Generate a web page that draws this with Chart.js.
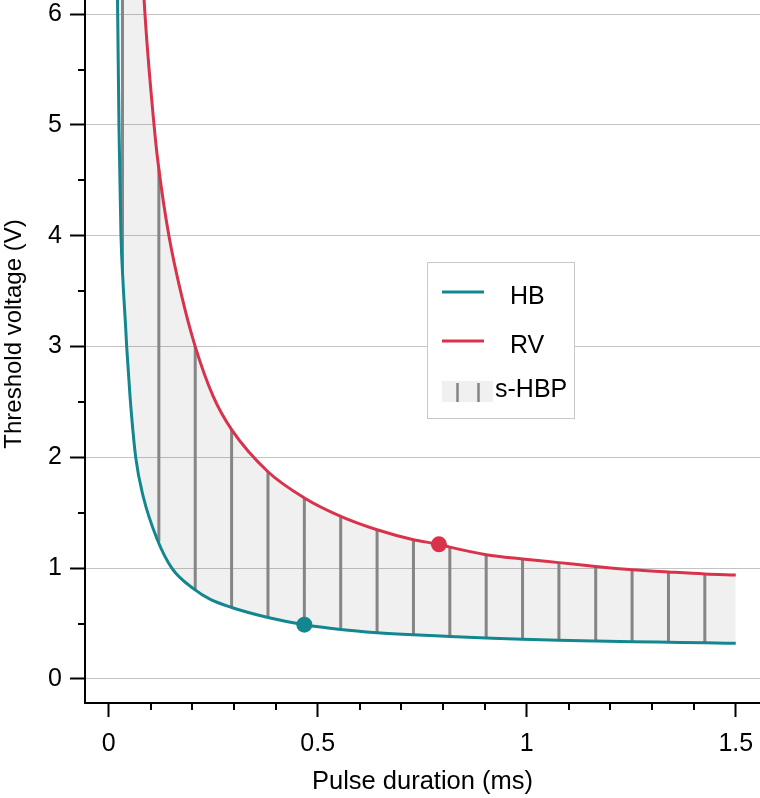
<!DOCTYPE html>
<html>
<head>
<meta charset="utf-8">
<script src="https://cdn.jsdelivr.net/npm/chart.js@4.4.1/dist/chart.umd.min.js"></script>
<style>
  html, body { margin: 0; padding: 0; background: #fff; overflow: hidden; }
  #frame { position: relative; width: 760px; height: 798px; overflow: hidden; }
  #holder { position: absolute; left: 0; top: -35px; width: 760px; height: 833px; }
</style>
</head>
<body>
<div id="frame"><div id="holder"><canvas id="c"></canvas></div></div>
<script>
// ---- Data ----
const hbDuration = [0.0195, 0.021, 0.0247, 0.0294, 0.034, 0.0406, 0.043, 0.051, 0.0646, 0.083, 0.115, 0.151, 0.206, 0.242, 0.294, 0.381, 0.468, 0.555, 0.642, 0.729, 0.816, 0.903, 0.99, 1.077, 1.165, 1.252, 1.339, 1.426, 1.5];
const hbVoltage  = [6.6, 6.15, 4.95, 4.0, 3.6, 3.17, 3.0, 2.55, 2.0, 1.64, 1.27, 1.0, 0.806, 0.72, 0.645, 0.555, 0.49, 0.447, 0.418, 0.398, 0.383, 0.37, 0.358, 0.349, 0.342, 0.336, 0.331, 0.326, 0.322];

const rvDuration = [0.0195, 0.033, 0.05, 0.07, 0.0868, 0.111, 0.12, 0.144, 0.175, 0.207, 0.25, 0.294, 0.381, 0.468, 0.555, 0.642, 0.729, 0.79, 0.816, 0.903, 0.99, 1.077, 1.165, 1.252, 1.339, 1.426, 1.5];
const rvVoltage  = [24, 15, 9.6, 7.2, 6.0, 4.9, 4.6, 4.0, 3.45, 3.0, 2.55, 2.25, 1.87, 1.634, 1.468, 1.347, 1.257, 1.215, 1.19, 1.122, 1.083, 1.05, 1.016, 0.986, 0.966, 0.948, 0.938];

const hatchDuration = [0.033, 0.12, 0.207, 0.294, 0.381, 0.468, 0.555, 0.642, 0.729, 0.816, 0.903, 0.99, 1.077, 1.165, 1.252, 1.339, 1.426];
const hatchLow  = [3.65, 1.24, 0.80, 0.645, 0.555, 0.49, 0.447, 0.418, 0.398, 0.383, 0.37, 0.358, 0.349, 0.342, 0.336, 0.331, 0.326];
const hatchHigh = [15, 4.6, 3.0, 2.25, 1.87, 1.634, 1.468, 1.347, 1.257, 1.19, 1.122, 1.083, 1.05, 1.016, 0.986, 0.966, 0.948];

const markerDuration = [0.468, 0.79];
const markerVoltage  = [0.49, 1.215];

const xTickValues = [0, 0.5, 1, 1.5];
const xTickLabels = ['0', '0.5', '1', '1.5'];
const xMinorTicks = [0.1, 0.2, 0.3, 0.4, 0.6, 0.7, 0.8, 0.9, 1.1, 1.2, 1.3, 1.4];
const yMinorTicks = [0.5, 1.5, 2.5, 3.5, 4.5, 5.5];

const seriesNames = ['HB', 'RV', 's-HBP'];
const xTitle = 'Pulse duration (ms)';
const yTitle = 'Threshold voltage (V)';

// ---- Styles ----
const TEAL = '#14868f';
const RED = '#d8334b';
const HATCH = '#858585';
const FILL = 'rgba(0,0,0,0.057)';
const GRID = '#c4c4c4';
const FONT = "'Liberation Sans', Helvetica, Arial, sans-serif";
const OFFSET = 35; // canvas shifted up by this many px

const toXY = (xs, ys) => xs.map((x, i) => ({ x: x, y: ys[i] }));
const hatchPoints = [];
hatchDuration.forEach((d, i) => {
  hatchPoints.push({ x: d, y: hatchLow[i] }, { x: d, y: hatchHigh[i] }, { x: d, y: null });
});

const minorTicksPlugin = {
  id: 'minorTicks',
  afterDraw(chart) {
    const { ctx, chartArea, scales } = chart;
    ctx.save();
    ctx.strokeStyle = '#000';
    ctx.lineWidth = 2;
    xMinorTicks.forEach(v => {
      const px = Math.round(scales.x.getPixelForValue(v));
      ctx.beginPath(); ctx.moveTo(px, chartArea.bottom); ctx.lineTo(px, chartArea.bottom + 7); ctx.stroke();
    });
    yMinorTicks.forEach(v => {
      const py = Math.round(scales.y.getPixelForValue(v));
      ctx.beginPath(); ctx.moveTo(chartArea.left, py); ctx.lineTo(chartArea.left - 7, py); ctx.stroke();
    });
    ctx.restore();
  }
};

const legendPlugin = {
  id: 'boxLegend',
  afterDraw(chart) {
    const ctx = chart.ctx;
    const bx = 427.5, by = 262.5 + OFFSET, bw = 147, bh = 156;
    ctx.save();
    ctx.fillStyle = '#fff';
    ctx.fillRect(bx, by, bw, bh);
    ctx.strokeStyle = '#c8c8c8';
    ctx.lineWidth = 1;
    ctx.strokeRect(bx, by, bw, bh);
    ctx.font = '25px ' + FONT;
    ctx.fillStyle = '#000';
    ctx.textBaseline = 'middle';
    ctx.textAlign = 'left';
    ctx.lineWidth = 3;
    ctx.strokeStyle = TEAL;
    ctx.beginPath(); ctx.moveTo(442, 292 + OFFSET); ctx.lineTo(484, 292 + OFFSET); ctx.stroke();
    ctx.fillText(seriesNames[0], 510, 297 + OFFSET);
    ctx.strokeStyle = RED;
    ctx.beginPath(); ctx.moveTo(442, 341 + OFFSET); ctx.lineTo(484, 341 + OFFSET); ctx.stroke();
    ctx.fillText(seriesNames[1], 510, 346 + OFFSET);
    ctx.fillStyle = '#f0f0f0';
    ctx.fillRect(442, 381 + OFFSET, 51, 21);
    ctx.strokeStyle = HATCH;
    ctx.lineWidth = 2.5;
    [457.5, 478.5].forEach(x => {
      ctx.beginPath(); ctx.moveTo(x, 383 + OFFSET); ctx.lineTo(x, 402 + OFFSET); ctx.stroke();
    });
    ctx.fillStyle = '#000';
    ctx.fillText(seriesNames[2], 495, 390 + OFFSET);
    ctx.restore();
  }
};

Chart.defaults.font.family = FONT;
Chart.defaults.color = '#000';

new Chart(document.getElementById('c'), {
  type: 'line',
  data: {
    datasets: [
      {
        label: 'markers',
        data: toXY(markerDuration, markerVoltage),
        showLine: false,
        pointRadius: 8,
        pointBackgroundColor: [TEAL, RED],
        pointBorderWidth: 0,
        borderWidth: 0
      },
      {
        label: seriesNames[0],
        data: toXY(hbDuration, hbVoltage),
        borderColor: TEAL,
        borderWidth: 3,
        pointRadius: 0,
        cubicInterpolationMode: 'monotone',
        backgroundColor: FILL,
        fill: { target: 2 }
      },
      {
        label: seriesNames[1],
        data: toXY(rvDuration, rvVoltage),
        borderColor: RED,
        borderWidth: 3,
        pointRadius: 0,
        cubicInterpolationMode: 'monotone',
        fill: false
      },
      {
        label: seriesNames[2],
        data: hatchPoints,
        borderColor: HATCH,
        borderWidth: 3,
        pointRadius: 0,
        tension: 0,
        spanGaps: false,
        fill: false
      }
    ]
  },
  options: {
    responsive: true,
    maintainAspectRatio: false,
    animation: false,
    devicePixelRatio: 1,
    layout: { padding: 0, autoPadding: false },
    plugins: {
      legend: { display: false },
      tooltip: { enabled: false },
      filler: { drawTime: 'beforeDatasetsDraw' }
    },
    scales: {
      x: {
        type: 'linear',
        min: -0.0567,
        max: 1.558,
        afterFit(scale) { scale.height = 95; scale.paddingLeft = 0; scale.paddingRight = 0; },
        afterBuildTicks(scale) { scale.ticks = xTickValues.map(v => ({ value: v })); },
        ticks: {
          font: { size: 25 }, padding: 12, color: '#000', maxRotation: 0, autoSkip: false,
          callback: (v) => xTickLabels[xTickValues.indexOf(v)]
        },
        grid: { drawOnChartArea: false, tickLength: 14, tickColor: '#000', tickWidth: 2 },
        border: { display: true, color: '#000', width: 2 },
        title: { display: true, text: xTitle, font: { size: 25.5 }, color: '#000', padding: { top: 0, bottom: 1 } }
      },
      y: {
        type: 'linear',
        min: -0.217,
        max: 6.444,
        afterFit(scale) { scale.width = 85; scale.paddingTop = 0; scale.paddingBottom = 0; },
        ticks: { stepSize: 1, includeBounds: false, font: { size: 25 }, padding: 8, color: '#000' },
        grid: { color: GRID, lineWidth: 1, tickLength: 15, tickColor: '#000', tickWidth: 2 },
        border: { display: true, color: '#000', width: 2 },
        title: { display: true, text: yTitle, font: { size: 24 }, color: '#000', padding: { top: 0, bottom: 0 } }
      }
    }
  },
  plugins: [minorTicksPlugin, legendPlugin]
});
</script>
</body>
</html>
